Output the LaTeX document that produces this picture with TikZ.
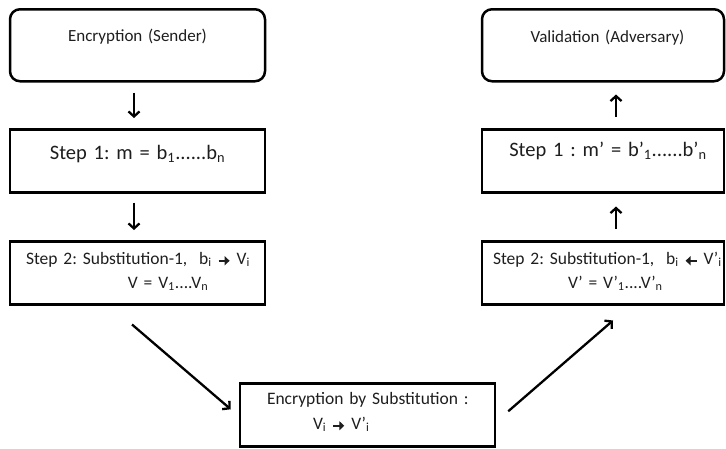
\documentclass[tikz,border=0pt]{standalone}
\usepackage{fontspec}
\usepackage{graphicx}
\setmainfont{Carlito}
\usetikzlibrary{arrows.meta}
\newcommand{\rarr}{\tikz[baseline=-3.5pt,x=1pt,y=1pt]\draw[line width=2.4pt,-{Triangle[length=5pt,width=9pt]}] (0,0) -- (11,0);}
\newcommand{\larr}{\tikz[baseline=-3.5pt,x=1pt,y=1pt]\draw[line width=2.4pt,-{Triangle[length=5pt,width=9pt]}] (11,0) -- (0,0);}
\definecolor{txt}{HTML}{1E1E1E}
\tikzset{
  rbox/.style={draw, line width=2.5pt, rounded corners=10pt, inner xsep=0pt, inner ysep=0pt, align=center, anchor=north, text=txt},
  sbox/.style={draw, line width=2.5pt, inner xsep=0pt, inner ysep=0pt, align=center, anchor=north, text=txt},
  lbox/.style={draw, line width=2.5pt, inner ysep=0pt, align=left, anchor=north, text=txt},
  arr/.style={line width=2.3pt, -{Straight Barb[length=5pt,width=11pt]}}
}
\begin{document}
\frenchspacing
\begin{tikzpicture}[x=1pt,y=-1pt]
\useasboundingbox (0,0) rectangle (726,448);
% left column
\node[rbox, text width=255pt, text height=32pt, text depth=40pt, font=\fontsize{17}{20}\selectfont] (l0) at (137.5,8) {Encryption (Sender)};
\node[sbox, text width=255pt, text height=30pt, text depth=33pt, font=\fontsize{20.5}{24}\selectfont] (l1) at (137.5,128) {Step 1: m = b\textsubscript{1}......b\textsubscript{n}};
\node[lbox, inner xsep=16pt, text width=223pt, text height=23pt, text depth=40pt, font=\fontsize{17.5}{24}\selectfont] (l2) at (137.5,240)
  {\mbox{Step 2: Substitution-1,\ \ b\textsubscript{i} \rarr{} V\textsubscript{i}}\\ \mbox{\hspace*{102pt}V = V\textsubscript{1}....V\textsubscript{n}}};
% right column
\node[rbox, text width=242pt, text height=33pt, text depth=39pt, font=\fontsize{17}{20}\selectfont] (r0) at (603,8) {\hspace*{9pt}Validation (Adversary)};
\node[sbox, text width=242pt, text height=27pt, text depth=36pt, font=\fontsize{20.5}{24}\selectfont] (r1) at (603,128) {\hspace*{10pt}Step 1 : m’ = b’\textsubscript{1}......b’\textsubscript{n}};
\node[lbox, inner xsep=11pt, text width=220pt, text height=23pt, text depth=40pt, font=\fontsize{17.5}{24}\selectfont] (r2) at (603,240)
  {\mbox{Step 2: Substitution-1,\ \ b\textsubscript{i} \larr{} V’\textsubscript{i}}\\ \mbox{\hspace*{75pt}V’ = V’\textsubscript{1}....V’\textsubscript{n}}};
% bottom
\node[lbox, inner xsep=27pt, text width=201pt, text height=21pt, text depth=42pt, font=\fontsize{17.5}{25}\selectfont] (b) at (367.5,382)
  {\mbox{Encryption by Substitution :}\\ \mbox{\hspace*{46pt}V\textsubscript{i} \rarr{} V’\textsubscript{i}}};
% arrows
\draw[arr, shorten <=10pt, shorten >=10pt] ([xshift=-3.5pt]l0.south) -- ([xshift=-3.5pt]l1.north);
\draw[arr, shorten <=9pt, shorten >=10pt] ([xshift=-3.5pt]l1.south) -- ([xshift=-3.5pt]l2.north);
\draw[arr, shorten <=11pt, shorten >=12pt] ([xshift=13pt]r1.north) -- ([xshift=13pt]r0.south);
\draw[arr, shorten <=11pt, shorten >=13pt] ([xshift=13pt]r2.north) -- ([xshift=13pt]r1.south);
\draw[arr] ([shift={(-5.5,19)}]l2.south) -- ([shift={(-8,-5.5)}]b.west);
\draw[arr] ([shift={(12,-3.5)}]b.east) -- ([shift={(10,15)}]r2.south);
\end{tikzpicture}
\end{document}
